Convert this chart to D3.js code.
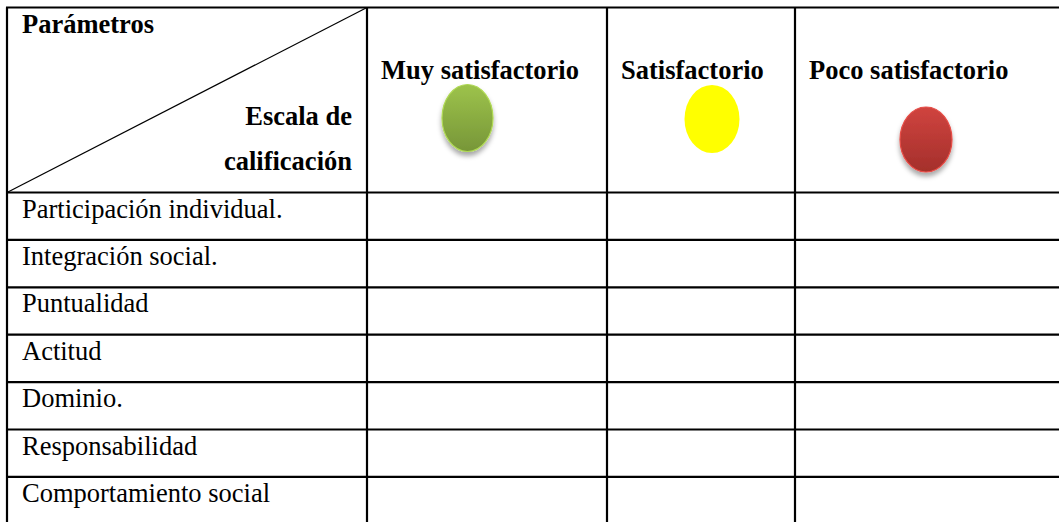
<!DOCTYPE html>
<html>
<head>
<meta charset="utf-8">
<script src="https://cdn.jsdelivr.net/npm/d3@7"></script>
<style>
  html, body { margin: 0; padding: 0; background: #fff; }
  svg { display: block; }
  text { font-family: "Liberation Serif", "Times New Roman", serif; fill: #000; }
</style>
</head>
<body>
<svg id="chart" width="1059" height="522"></svg>
<script>
// ---- data ----
const cornerTop = "Parámetros";
const cornerBottom = ["Escala de", "calificación"];
const ratingLabels = ["Muy satisfactorio", "Satisfactorio", "Poco satisfactorio"];
const ratingColorsTop = ["#9dc34b", "#ffff00", "#d0443f"];
const ratingColorsBottom = ["#779638", "#ffff00", "#a42f2b"];
const parameters = [
  "Participación individual.",
  "Integración social.",
  "Puntualidad",
  "Actitud",
  "Dominio.",
  "Responsabilidad",
  "Comportamiento social"
];

// ---- layout ----
const W = 1059, H = 522;
const colEdges = [7, 367, 607, 795, 1070];
const tableTop = 7.5, headerBottom = 192.5, rowH = 47.4;
const FS = 26.5;

const svg = d3.select("#chart");
const defs = svg.append("defs");

const f = defs.append("filter").attr("id", "shadow")
  .attr("x", "-50%").attr("y", "-50%").attr("width", "200%").attr("height", "200%");
f.append("feDropShadow").attr("dx", 0).attr("dy", 4).attr("stdDeviation", 2.5)
  .attr("flood-color", "#000").attr("flood-opacity", 0.35);

ratingColorsTop.forEach((c, i) => {
  const g = defs.append("linearGradient").attr("id", "grad" + i)
    .attr("x1", 0).attr("y1", 0).attr("x2", 0).attr("y2", 1);
  g.append("stop").attr("offset", "0%").attr("stop-color", c);
  g.append("stop").attr("offset", "100%").attr("stop-color", ratingColorsBottom[i]);
});

const y = d3.scaleLinear().domain([0, 1]).range([headerBottom, headerBottom + rowH]);
const rowLines = d3.range(parameters.length).map(i => y(i));

// ---- ellipses ----
const ell = [
  { cx: 467.5, cy: 118, rx: 25.5, ry: 33.5, shadow: true },
  { cx: 712, cy: 119, rx: 27.5, ry: 34, shadow: false },
  { cx: 926, cy: 139.5, rx: 26, ry: 32.5, shadow: true }
];
svg.selectAll("ellipse.dot").data(ratingLabels).enter().append("ellipse")
  .attr("class", "dot")
  .attr("cx", (d, i) => ell[i].cx).attr("cy", (d, i) => ell[i].cy)
  .attr("rx", (d, i) => ell[i].rx).attr("ry", (d, i) => ell[i].ry)
  .attr("fill", (d, i) => i === 1 ? ratingColorsTop[i] : "url(#grad" + i + ")")
  .attr("stroke", (d, i) => i === 1 ? "none" : d3.color(ratingColorsTop[i]).brighter(0.3))
  .attr("stroke-width", 1.2)
  .attr("filter", (d, i) => ell[i].shadow ? "url(#shadow)" : null);

// ---- grid lines ----
const lines = svg.append("g").attr("stroke", "#000").attr("stroke-width", 2.2);
lines.append("line").attr("x1", colEdges[0] - 1).attr("x2", W).attr("y1", tableTop).attr("y2", tableTop);
lines.selectAll("line.h").data(rowLines).enter().append("line").attr("class", "h")
  .attr("x1", colEdges[0] - 1).attr("x2", W).attr("y1", d => d).attr("y2", d => d);
lines.selectAll("line.v").data(colEdges.slice(0, 4)).enter().append("line").attr("class", "v")
  .attr("x1", d => d).attr("x2", d => d).attr("y1", tableTop).attr("y2", H);
// diagonal
svg.append("line").attr("x1", colEdges[0]).attr("y1", headerBottom)
  .attr("x2", colEdges[1]).attr("y2", tableTop)
  .attr("stroke", "#000").attr("stroke-width", 1.2);

// ---- header texts ----
svg.append("text").attr("x", 22).attr("y", 33).attr("font-size", FS).attr("font-weight", "bold")
  .text(cornerTop);
svg.selectAll("text.cb").data(cornerBottom).enter().append("text").attr("class", "cb")
  .attr("x", 352).attr("y", (d, i) => 125 + i * 45).attr("text-anchor", "end")
  .attr("font-size", FS).attr("font-weight", "bold").text(d => d);
const headX = [381, 621, 809];
svg.selectAll("text.hd").data(ratingLabels).enter().append("text").attr("class", "hd")
  .attr("x", (d, i) => headX[i]).attr("y", 79)
  .attr("font-size", FS).attr("font-weight", "bold").text(d => d);

// ---- row labels ----
svg.selectAll("text.row").data(parameters).enter().append("text").attr("class", "row")
  .attr("x", 22).attr("y", (d, i) => y(i) + 25)
  .attr("font-size", FS).text(d => d);
</script>
</body>
</html>
